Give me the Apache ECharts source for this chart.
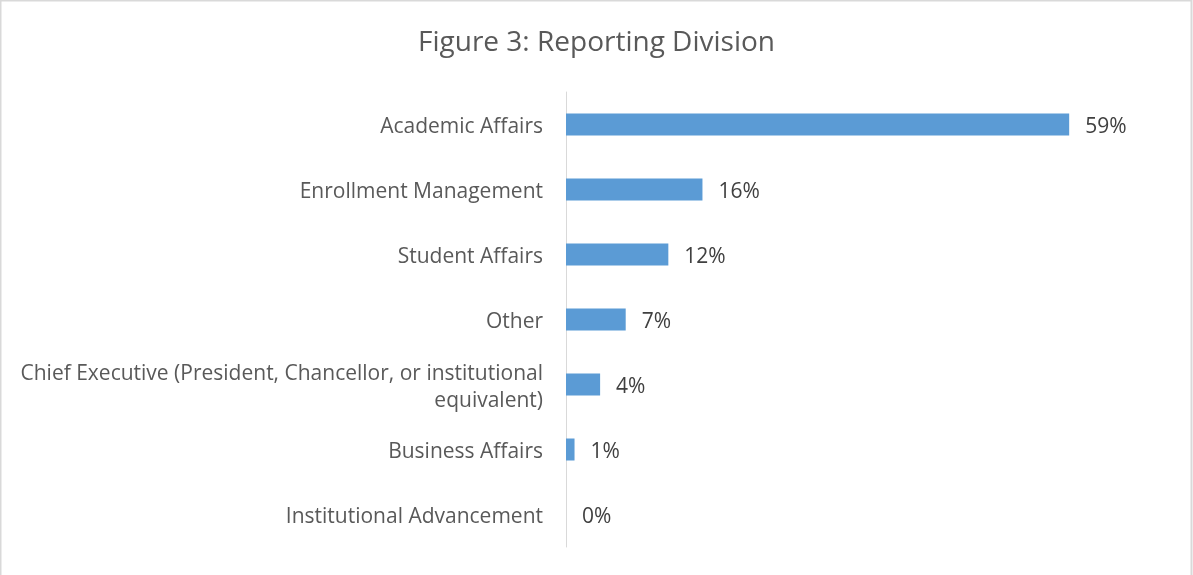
<!DOCTYPE html>
<html>
<head>
<meta charset="utf-8">
<script src="https://cdn.jsdelivr.net/npm/echarts@6/dist/echarts.min.js"></script>
<style>
  html, body { margin: 0; padding: 0; background: #fff; }
  #chart { width: 1193px; height: 575px; }
</style>
</head>
<body>
<div id="chart"></div>
<script>
// data
var categories = [
    'Academic Affairs',
    'Enrollment Management',
    'Student Affairs',
    'Other',
    'Chief Executive (President, Chancellor, or institutional\nequivalent)',
    'Business Affairs',
    'Institutional Advancement'
];
var percents = [59, 16, 12, 7, 4, 1, 0];
var chartTitle = 'Figure 3: Reporting Division';

var myChart = echarts.init(document.getElementById('chart'));

var FONT = '"Open Sans", "Noto Sans", sans-serif';

myChart.setOption({
    animation: false,
    backgroundColor: '#ffffff',
    title: {
        text: chartTitle,
        left: 'center',
        top: 24,
        textStyle: { fontFamily: FONT, fontSize: 28, fontWeight: 'normal', color: '#595959' }
    },
    graphic: [{
        type: 'rect',
        shape: { x: 0.5, y: 0.5, width: 1191, height: 590 },
        style: { fill: 'none', stroke: '#d9d9d9', lineWidth: 2 },
        silent: true
    }],
    grid: { left: 566, right: 30, top: 92, bottom: 28, containLabel: false },
    xAxis: {
        type: 'value',
        min: 0,
        max: 70,
        show: false
    },
    yAxis: {
        type: 'category',
        data: categories,
        inverse: true,
        axisLine: { show: true, lineStyle: { color: '#d9d9d9', width: 1 } },
        axisTick: { show: false },
        axisLabel: {
            margin: 23,
            align: 'right',
            formatter: function (v) {
                return v.split('\n').map(function (s) { return '{a|' + s + '}'; }).join('\n');
            },
            rich: {
                a: {
                    fontFamily: FONT,
                    fontSize: 21,
                    color: '#595959',
                    lineHeight: 27,
                    verticalAlign: 'bottom'
                }
            }
        }
    },
    series: [{
        type: 'bar',
        data: percents,
        barWidth: 22,
        itemStyle: { color: '#5b9bd5' },
        label: {
            show: true,
            position: 'right',
            distance: 16,
            offset: [0, 3],
            formatter: '{c}%',
            fontFamily: FONT,
            fontSize: 21,
            color: '#404040'
        }
    }]
});
</script>
</body>
</html>
